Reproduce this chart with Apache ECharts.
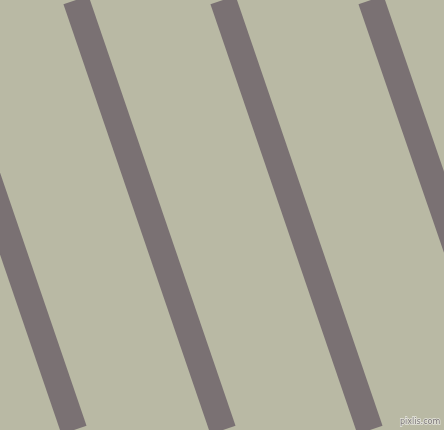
<!DOCTYPE html>
<html>
<head>
<meta charset="utf-8">
<script src="https://cdn.jsdelivr.net/npm/echarts@6/dist/echarts.min.js"></script>
<style>
  html, body { margin: 0; padding: 0; }
  #chart { width: 444px; height: 430px; }
</style>
</head>
<body>
<div id="chart"></div>
<script>
// stripe centre lines: x where each crosses the top (y=0) and bottom (y=430)
const stripeNames = ['s0', 's1', 's2', 's3'];
const stripeTopX = [-73, 76, 223, 371];
const stripeBottomX = [74, 223, 370, 519];
const edgeY = [0, 430];

const chart = echarts.init(document.getElementById('chart'), null, { renderer: 'canvas' });

let series = stripeNames.map(function (name, i) {
  return {
    name: name,
    type: 'line',
    data: [[stripeTopX[i], edgeY[0]], [stripeBottomX[i], edgeY[1]]],
    symbol: 'none',
    clip: true,
    silent: true,
    lineStyle: { color: '#7a7173', width: 26.5, cap: 'butt' }
  };
});

let option = {
  animation: false,
  backgroundColor: '#b9b9a4',
  grid: { left: 0, right: 0, top: 0, bottom: 0 },
  xAxis: { type: 'value', min: 0, max: 444, show: false },
  yAxis: { type: 'value', min: 0, max: 430, inverse: true, show: false },
  series: series,
  graphic: [{
    type: 'text',
    right: 3,
    bottom: 3,
    style: {
      text: 'pixlis.com',
      font: '8px "DejaVu Sans"',
      fill: '#7a7575',
      stroke: '#e4e4dc',
      lineWidth: 1.5
    }
  }]
};
chart.setOption(option);
</script>
</body>
</html>
